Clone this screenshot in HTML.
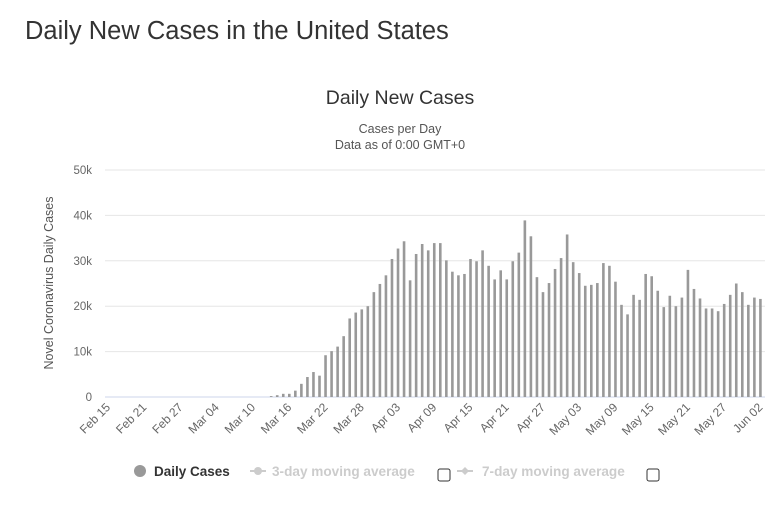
<!DOCTYPE html>
<html><head><meta charset="utf-8"><style>
body{margin:0;width:780px;height:517px;background:#fff;font-family:"Liberation Sans",sans-serif;overflow:hidden}
svg text{font-family:"Liberation Sans",sans-serif}
</style></head><body>
<div style="position:absolute;left:25px;top:17px;font-size:25.5px;color:#333">Daily New Cases in the United States</div>
<svg id="c" width="780" height="517" style="position:absolute;left:0;top:0">
<text x="400" y="104" text-anchor="middle" font-size="19.5" fill="#333">Daily New Cases</text>
<text x="400" y="133" text-anchor="middle" font-size="12.5" fill="#555">Cases per Day</text>
<text x="400" y="149" text-anchor="middle" font-size="12.5" fill="#555">Data as of 0:00 GMT+0</text>
<text transform="translate(53,283) rotate(-90)" text-anchor="middle" font-size="12.5" fill="#555">Novel Coronavirus Daily Cases</text>
<g id="grid"></g><g id="bars"></g><g id="xl"></g>
<g>
<circle cx="140" cy="471" r="6" fill="#999"/>
<text x="154" y="476" font-size="13.5" font-weight="bold" fill="#333">Daily Cases</text>
<line x1="250" y1="471" x2="266" y2="471" stroke="#ccc" stroke-width="2"/><circle cx="258" cy="471" r="4" fill="#ccc"/>
<text x="272" y="476" font-size="13.6" font-weight="bold" fill="#ccc">3-day moving average</text>
<rect x="438" y="469" width="12" height="12" rx="2" fill="#fff" stroke="#333"/>
<line x1="457" y1="471" x2="473" y2="471" stroke="#ccc" stroke-width="2"/><path d="M465 467l4 4-4 4-4-4z" fill="#ccc"/>
<text x="482" y="476" font-size="13.6" font-weight="bold" fill="#ccc">7-day moving average</text>
<rect x="647" y="469" width="12" height="12" rx="2" fill="#fff" stroke="#333"/>
</g>
</svg>
<script>
const yTicks=[0,10000,20000,30000,40000,50000];
const yTickLabels=["0","10k","20k","30k","40k","50k"];
const xTickLabels=["Feb 15","Feb 21","Feb 27","Mar 04","Mar 10","Mar 16","Mar 22","Mar 28","Apr 03","Apr 09","Apr 15","Apr 21","Apr 27","May 03","May 09","May 15","May 21","May 27","Jun 02"];
const earlyValues=[0,0,0,0,0,0,0,0,0,0,0,0,0,0,0,0,0,0,0,0,0,0,0,0,0,0,0];
const laterValues=[200,400,700,700,1400,2900,4400,5500,4700,9200,10100,11100,13400,17300,18600,19300,20000,23100,24900,26800,30400,32700,34300,25700,31500,33700,32300,33900,33900,30100,27600,26800,27100,30400,29900,32300,28900,25900,27900,25900,29900,31800,38900,35400,26400,23100,25100,28200,30600,35800,29700,27300,24500,24700,25100,29500,28900,25400,20300,18200,22500,21400,27100,26600,23400,19800,22300,20000,21900,28000,23800,21700,19500,19500,18900,20500,22500,25000,23100,20300,21900,21600];
const values=earlyValues.concat(laterValues);
const NS="http://www.w3.org/2000/svg";
const x0=108,dx=6.04,yBase=397,pxPer=45.4/10000;
const xS=i=>x0+i*dx, yS=v=>yBase-v*pxPer;
const grid=document.getElementById('grid');
yTicks.forEach((t,k)=>{
 const l=document.createElementNS(NS,'line');
 
 
 l.setAttribute('x1',105);l.setAttribute('x2',765);l.setAttribute('y1',yS(t));l.setAttribute('y2',yS(t));
 l.setAttribute('stroke',t===0?'#ccd6eb':'#e6e6e6');grid.appendChild(l);
 const tx=document.createElementNS(NS,'text');
 
 
 tx.setAttribute('x',92);tx.setAttribute('y',yS(t)+4);tx.setAttribute('text-anchor','end');
 tx.setAttribute('font-size','11.5');tx.setAttribute('fill','#666');tx.textContent=yTickLabels[k];grid.appendChild(tx);
});
const bars=document.getElementById('bars');
values.forEach((v,i)=>{
 if(v<=0)return;
 const r=document.createElementNS(NS,'rect');
 
 
 r.setAttribute('x',xS(i)-1.2);r.setAttribute('width',2.6);
 r.setAttribute('y',yS(v));r.setAttribute('height',Math.max(0,yBase-yS(v)));
 r.setAttribute('fill','#999');bars.appendChild(r);
});
const xl=document.getElementById('xl');
xTickLabels.forEach((s,k)=>{
 const x=xS(k*6);
 const t=document.createElementNS(NS,'text');
 
 
 t.setAttribute('transform','translate('+(x+3)+',408) rotate(-45)');
 t.setAttribute('text-anchor','end');t.setAttribute('font-size','12');t.setAttribute('fill','#666');
 t.textContent=s;xl.appendChild(t);
});
</script>
</body></html>
